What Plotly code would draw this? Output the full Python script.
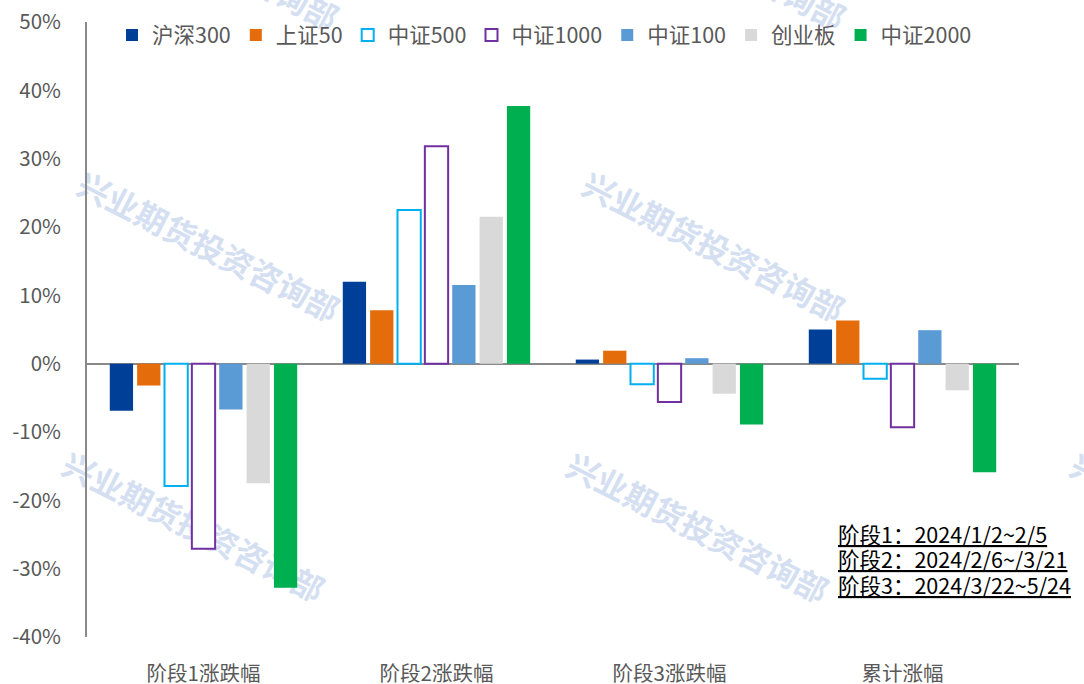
import math
import plotly.graph_objects as go

# Stage returns (%) of major A-share indices
categories = ["阶段1涨跌幅", "阶段2涨跌幅", "阶段3涨跌幅", "累计涨幅"]
series_names = ["沪深300", "上证50", "中证500", "中证1000", "中证100", "创业板", "中证2000"]
hs300 = [-6.9, 12.0, 0.6, 5.0]
sz50 = [-3.2, 7.8, 1.9, 6.3]
zz500 = [-17.9, 22.5, -3.0, -2.2]
zz1000 = [-27.1, 31.8, -5.6, -9.3]
zz100 = [-6.7, 11.5, 0.8, 4.9]
cyb = [-17.5, 21.5, -4.4, -3.9]
zz2000 = [-32.8, 37.7, -8.9, -15.9]
series_values = [hs300, sz50, zz500, zz1000, zz100, cyb, zz2000]

y_tick_values = [-40, -30, -20, -10, 0, 10, 20, 30, 40, 50]
y_tick_labels = [f"{v}%" for v in y_tick_values]

stage_notes = [
    "阶段1：2024/1/2~2/5",
    "阶段2：2024/2/6~/3/21",
    "阶段3：2024/3/22~5/24",
]

# (fill, outline) per series; hollow bars use a white fill with a coloured edge
styles = [
    ("#003F98", None),
    ("#E46C0A", None),
    ("#FFFFFF", "#00B0F0"),
    ("#FFFFFF", "#7030A0"),
    ("#5B9BD5", None),
    ("#D9D9D9", None),
    ("#00B050", None),
]

W, H = 1084, 684
L, R, T, B = 87, 65, 22, 47
FONT = "Noto Sans CJK SC, Microsoft YaHei, sans-serif"
GREY_TXT = "#595959"

fig = go.Figure()
for name, vals, (fill, edge) in zip(series_names, series_values, styles):
    fig.add_trace(go.Bar(
        name=name, x=categories, y=vals,
        marker=dict(color=fill,
                    line=dict(color=edge if edge else fill, width=2 if edge else 0)),
    ))


def px_to_paper(px, py):
    return (px - L) / (W - L - R), 1 - (py - T) / (H - T - B)


# Diagonal company watermark, drawn beneath the bars
shapes = []
wm_centres = [(206, -42), (713, -42), (207, 250), (712, 250),
              (192, 530), (696, 531), (1200, 531)]
ang = math.radians(27)
half = 140
for cx, cy in wm_centres:
    x0, y0 = px_to_paper(cx - half * math.cos(ang), cy - half * math.sin(ang))
    x1, y1 = px_to_paper(cx + half * math.cos(ang), cy + half * math.sin(ang))
    shapes.append(dict(
        type="line", xref="paper", yref="paper", x0=x0, y0=y0, x1=x1, y1=y1,
        layer="below", line=dict(width=0, color="rgba(0,0,0,0)"),
        label=dict(text="<b>兴业期货投资咨询部</b>",
                   textposition="middle", yanchor="middle",
                   font=dict(family=FONT, size=32, color="#D5DFF2")),
    ))

annotations = []
for i, note in enumerate(stage_notes):
    ax, ay = px_to_paper(836, 533 + i * 25.5)
    annotations.append(dict(
        xref="paper", yref="paper", x=ax, y=ay, xanchor="left", yanchor="middle",
        showarrow=False,
        text=f'<span style="text-decoration:underline">{note}</span>',
        font=dict(family=FONT, size=21.5, color="#000000"),
    ))

lx, ly = px_to_paper(112, 35)
fig.update_layout(
    width=W, height=H,
    margin=dict(l=L, r=R, t=T, b=B, pad=0),
    paper_bgcolor="white", plot_bgcolor="rgba(0,0,0,0)",
    barmode="group", bargap=0.178, bargroupgap=0.149,
    font=dict(family=FONT, size=20, color=GREY_TXT),
    showlegend=True,
    legend=dict(orientation="h", x=lx, y=ly, xanchor="left", yanchor="middle",
                bgcolor="rgba(0,0,0,0)", font=dict(size=21.5, color=GREY_TXT),
                itemclick=False, traceorder="normal"),
    xaxis=dict(showline=False, showgrid=False, ticks="", zeroline=False,
               automargin=False,
               tickfont=dict(size=20.5, color=GREY_TXT), ticklabelstandoff=22),
    yaxis=dict(range=[-40, 50], tickvals=y_tick_values, ticktext=y_tick_labels,
               automargin=False,
               showgrid=False, showline=True, linecolor="#898989", linewidth=2,
               ticks="", zeroline=True, zerolinecolor="#898989", zerolinewidth=2,
               tickfont=dict(size=20.5, color=GREY_TXT), ticklabelstandoff=20),
    shapes=shapes,
    annotations=annotations,
)

fig.write_html("out.html")
